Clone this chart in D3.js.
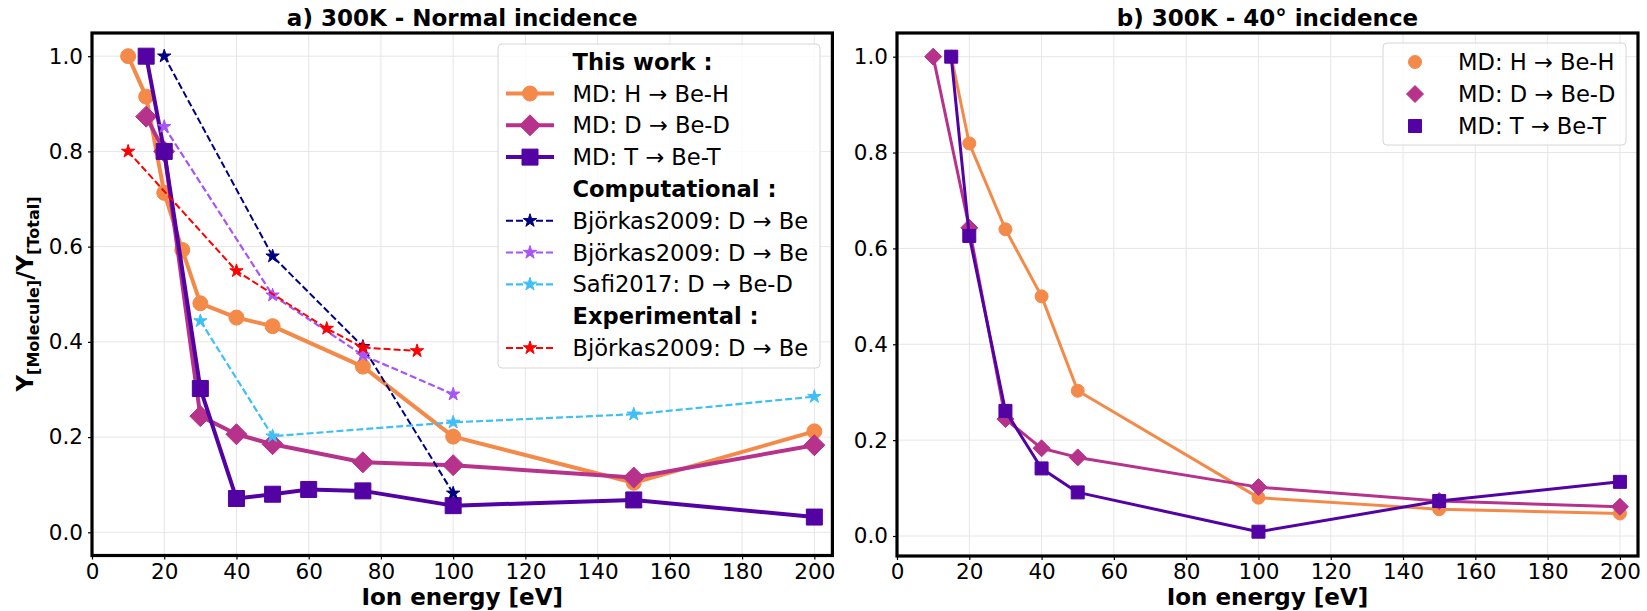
<!DOCTYPE html>
<html>
<head>
<meta charset="utf-8">
<script src="https://cdn.jsdelivr.net/npm/d3@7"></script>
<style>
  html, body { margin: 0; padding: 0; background: #fff; }
  svg { display: block; font-family: "DejaVu Sans", sans-serif; }
</style>
</head>
<body>
<svg id="chart" width="1647" height="611"></svg>
<script>
// ---- Data: panel a) normal incidence ----
const energyA_H = [10, 15, 20, 25, 30, 40, 50, 75, 100, 150, 200];
const yieldA_H  = [1.0, 0.915, 0.713, 0.593, 0.481, 0.451, 0.433, 0.348, 0.201, 0.104, 0.212];
const energyA_D = [15, 20, 30, 40, 50, 75, 100, 150, 200];
const yieldA_D  = [0.873, 0.80, 0.244, 0.206, 0.185, 0.147, 0.141, 0.115, 0.183];
const energyA_T = [15, 20, 30, 40, 50, 60, 75, 100, 150, 200];
const yieldA_T  = [1.0, 0.80, 0.302, 0.071, 0.080, 0.090, 0.087, 0.056, 0.068, 0.032];

const energyBjorkasComp1 = [20, 50, 75, 100];
const yieldBjorkasComp1  = [1.0, 0.580, 0.390, 0.082];
const energyBjorkasComp2 = [20, 50, 75, 100];
const yieldBjorkasComp2  = [0.852, 0.498, 0.372, 0.290];
const energySafi = [30, 50, 100, 150, 200];
const yieldSafi  = [0.444, 0.202, 0.231, 0.248, 0.285];
const energyBjorkasExp = [10, 40, 65, 75, 90];
const yieldBjorkasExp  = [0.80, 0.549, 0.428, 0.388, 0.381];

// ---- Data: panel b) 40 degree incidence ----
const energyB_H = [15, 20, 30, 40, 50, 100, 150, 200];
const yieldB_H  = [1.0, 0.819, 0.640, 0.500, 0.303, 0.080, 0.056, 0.047];
const energyB_D = [10, 20, 30, 40, 50, 100, 150, 200];
const yieldB_D  = [1.0, 0.643, 0.244, 0.183, 0.164, 0.102, 0.073, 0.061];
const energyB_T = [15, 20, 30, 40, 50, 100, 150, 200];
const yieldB_T  = [1.0, 0.626, 0.261, 0.141, 0.091, 0.009, 0.073, 0.113];

// ---- Labels and ticks ----
const titleA = "a) 300K - Normal incidence";
const titleB = "b) 300K - 40° incidence";
const xLabel = "Ion energy [eV]";
const xTicks = [0, 20, 40, 60, 80, 100, 120, 140, 160, 180, 200];
const yTicks = [0.0, 0.2, 0.4, 0.6, 0.8, 1.0];
const labelH = "MD: H \u2192 Be-H";
const labelD = "MD: D \u2192 Be-D";
const labelT = "MD: T \u2192 Be-T";
const labelComp1 = "Björkas2009: D \u2192 Be";
const labelComp2 = "Björkas2009: D \u2192 Be";
const labelSafi = "Safi2017: D \u2192 Be-D";
const labelExp = "Björkas2009: D \u2192 Be";
const headerThisWork = "This work :";
const headerComp = "Computational :";
const headerExp = "Experimental :";

// ---- Colours ----
const colH = "#f48a4a", colD = "#b6328b", colT = "#5302a3";
const colComp1 = "#000080", colComp2 = "#a855f7", colSafi = "#3fbff5", colExp = "#ff0000";

// Matplotlib-style "D" marker: a square rotated by 45 degrees
const symbolRotSquare = {
  draw(ctx, size) {
    const r = Math.sqrt(size / 2);
    ctx.moveTo(0, -r); ctx.lineTo(r, 0); ctx.lineTo(0, r); ctx.lineTo(-r, 0); ctx.closePath();
  }
};
const markerPath = (m) => {
  if (m.shape === "circle") return d3.symbol(d3.symbolCircle, Math.PI * m.r * m.r)();
  if (m.shape === "square") return d3.symbol(d3.symbolSquare, m.r * m.r * 4)();
  if (m.shape === "diamond") return d3.symbol(symbolRotSquare, 2 * m.r * m.r)();
  if (m.shape === "star") return d3.symbol(d3.symbolStar, m.r * m.r / 0.8908130915)();
};

const svg = d3.select("#chart");

function drawPanel(cfg) {
  const x = d3.scaleLinear().domain([0, 205]).range([cfg.left, cfg.right]);
  const y = d3.scaleLinear().domain(cfg.yDomain).range([cfg.bottom, cfg.top]);
  const g = svg.append("g");

  // grid
  g.append("g").selectAll("line.gx").data(xTicks).join("line")
    .attr("x1", d => x(d)).attr("x2", d => x(d))
    .attr("y1", cfg.top).attr("y2", cfg.bottom)
    .attr("stroke", "#e6e6e6").attr("stroke-width", 1);
  g.append("g").selectAll("line.gy").data(yTicks).join("line")
    .attr("x1", cfg.left).attr("x2", cfg.right)
    .attr("y1", d => y(d)).attr("y2", d => y(d))
    .attr("stroke", "#e6e6e6").attr("stroke-width", 1);

  // axes
  const xAxis = d3.axisBottom(x).tickValues(xTicks).tickFormat(d3.format("d"))
    .tickSizeInner(4).tickSizeOuter(0).tickPadding(5);
  const yAxis = d3.axisLeft(y).tickValues(yTicks).tickFormat(d3.format(".1f"))
    .tickSizeInner(4).tickSizeOuter(0).tickPadding(5);
  const gx = g.append("g").attr("transform", `translate(0,${cfg.bottom})`).call(xAxis);
  const gy = g.append("g").attr("transform", `translate(${cfg.left},0)`).call(yAxis);
  [gx, gy].forEach(a => {
    a.select(".domain").remove();
    a.selectAll(".tick line").attr("stroke", "#000").attr("stroke-width", 1.2);
    a.selectAll(".tick text").attr("font-family", "DejaVu Sans").attr("font-size", 21.5).attr("fill", "#000");
  });
  gx.selectAll(".tick text").attr("dy", "0.66em");

  // clip for data
  const clipId = "clip" + cfg.id;
  svg.append("clipPath").attr("id", clipId).append("rect")
    .attr("x", cfg.left).attr("y", cfg.top)
    .attr("width", cfg.right - cfg.left).attr("height", cfg.bottom - cfg.top);
  const plot = g.append("g").attr("clip-path", `url(#${clipId})`);

  cfg.series.forEach(s => {
    const pts = s.x.map((v, i) => [v, s.y[i]]);
    if (s.line) {
      plot.append("path")
        .attr("d", d3.line().x(d => x(d[0])).y(d => y(d[1]))(pts))
        .attr("fill", "none").attr("stroke", s.color)
        .attr("stroke-width", s.lw).attr("stroke-dasharray", s.dash || null)
        .attr("stroke-linejoin", "round").attr("stroke-linecap", s.dash ? "butt" : "round");
    }
    plot.append("g").selectAll("path").data(pts).join("path")
      .attr("transform", d => `translate(${x(d[0])},${y(d[1])})`)
      .attr("d", markerPath(s.marker))
      .attr("fill", s.color).attr("stroke", s.color).attr("stroke-width", 1);
  });

  // frame
  g.append("rect").attr("x", cfg.left).attr("y", cfg.top)
    .attr("width", cfg.right - cfg.left).attr("height", cfg.bottom - cfg.top)
    .attr("fill", "none").attr("stroke", "#000").attr("stroke-width", 3.2);

  // title
  g.append("text").attr("x", (cfg.left + cfg.right) / 2).attr("y", 26)
    .attr("text-anchor", "middle").attr("font-weight", "bold").attr("font-size", 23)
    .text(cfg.title);
  // x label
  g.append("text").attr("x", (cfg.left + cfg.right) / 2).attr("y", 605.3)
    .attr("text-anchor", "middle").attr("font-weight", "bold").attr("font-size", 23)
    .text(xLabel);

  // legend
  const L = cfg.legend;
  const lg = g.append("g");
  lg.append("rect").attr("x", L.x).attr("y", L.y).attr("width", L.w).attr("height", L.h)
    .attr("rx", 4).attr("fill", "#fff").attr("fill-opacity", 0.8)
    .attr("stroke", "#d6d6d6").attr("stroke-width", 1);
  L.items.forEach((it, i) => {
    const cy = L.row0 + i * L.step;
    if (it.series) {
      const s = it.series;
      if (L.showLine) {
        lg.append("line").attr("x1", L.hx0).attr("x2", L.hx1).attr("y1", cy).attr("y2", cy)
          .attr("stroke", s.color).attr("stroke-width", s.lw)
          .attr("stroke-dasharray", s.dash || null);
      }
      const m = L.markerScale ? Object.assign({}, s.marker, {r: s.marker.r * L.markerScale}) : s.marker;
      lg.append("path").attr("transform", `translate(${L.mx},${cy})`)
        .attr("d", markerPath(m)).attr("fill", s.color).attr("stroke", s.color).attr("stroke-width", 1);
    }
    lg.append("text").attr("x", L.tx).attr("y", cy).attr("dy", "0.36em")
      .attr("font-size", 22.6).attr("font-weight", it.series ? "normal" : "bold")
      .text(it.label);
  });
}

// ---- series styles, panel a ----
const sAH = {x: energyA_H, y: yieldA_H, color: colH, lw: 4, line: true, marker: {shape: "circle", r: 7.5}};
const sAD = {x: energyA_D, y: yieldA_D, color: colD, lw: 4, line: true, marker: {shape: "diamond", r: 10.5}};
const sAT = {x: energyA_T, y: yieldA_T, color: colT, lw: 4, line: true, marker: {shape: "square", r: 8}};
const sC1 = {x: energyBjorkasComp1, y: yieldBjorkasComp1, color: colComp1, lw: 2, dash: "7,3", line: true, marker: {shape: "star", r: 7}};
const sC2 = {x: energyBjorkasComp2, y: yieldBjorkasComp2, color: colComp2, lw: 2.2, dash: "7,3", line: true, marker: {shape: "star", r: 7}};
const sSa = {x: energySafi, y: yieldSafi, color: colSafi, lw: 2.2, dash: "7,3", line: true, marker: {shape: "star", r: 7}};
const sEx = {x: energyBjorkasExp, y: yieldBjorkasExp, color: colExp, lw: 2, dash: "7,3", line: true, marker: {shape: "star", r: 7}};

drawPanel({
  id: "a", left: 92, right: 832.4, top: 33, bottom: 555.5,
  yDomain: [-0.0487, 1.0487], title: titleA,
  series: [sAH, sAD, sAT, sC1, sC2, sSa, sEx],
  legend: {
    x: 498, y: 44, w: 322, h: 324, row0: 61.7, step: 31.8,
    hx0: 506, hx1: 554, mx: 530, tx: 572.5, showLine: true,
    items: [
      {label: headerThisWork}, {label: labelH, series: sAH}, {label: labelD, series: sAD},
      {label: labelT, series: sAT}, {label: headerComp}, {label: labelComp1, series: sC1},
      {label: labelComp2, series: sC2}, {label: labelSafi, series: sSa},
      {label: headerExp}, {label: labelExp, series: sEx}
    ]
  }
});

// ---- series styles, panel b ----
const sBH = {x: energyB_H, y: yieldB_H, color: colH, lw: 3, line: true, marker: {shape: "circle", r: 6.5}};
const sBD = {x: energyB_D, y: yieldB_D, color: colD, lw: 3, line: true, marker: {shape: "diamond", r: 8.5}};
const sBT = {x: energyB_T, y: yieldB_T, color: colT, lw: 3, line: true, marker: {shape: "square", r: 6.5}};

drawPanel({
  id: "b", left: 897, right: 1638, top: 33, bottom: 556,
  yDomain: [-0.0417, 1.0494], title: titleB,
  series: [sBH, sBD, sBT],
  legend: {
    x: 1383, y: 43, w: 243, h: 102, row0: 62, step: 32,
    mx: 1415, tx: 1458, showLine: false,
    items: [
      {label: labelH, series: sBH}, {label: labelD, series: sBD}, {label: labelT, series: sBT}
    ]
  }
});

// shared y label
const yl = svg.append("text")
  .attr("transform", "translate(33,294) rotate(-90)")
  .attr("text-anchor", "middle").attr("font-weight", "bold");
yl.append("tspan").attr("font-size", 23).text("Y");
yl.append("tspan").attr("font-size", 16).attr("dy", 6).text("[Molecule]");
yl.append("tspan").attr("font-size", 23).attr("dy", -6).text("/Y");
yl.append("tspan").attr("font-size", 16).attr("dy", 6).text("[Total]");
</script>
</body>
</html>
